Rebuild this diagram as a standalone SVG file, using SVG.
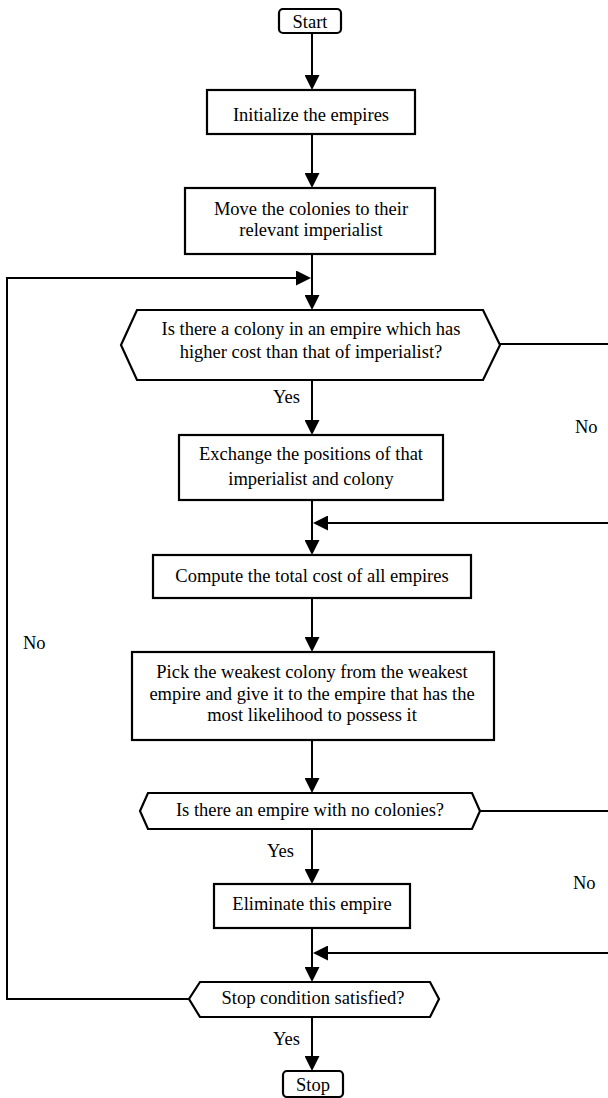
<svg xmlns="http://www.w3.org/2000/svg" width="608" height="1098" viewBox="0 0 608 1098">
<style>
.box{fill:#fff;stroke:#000;stroke-width:2.2}
.ln{fill:none;stroke:#000;stroke-width:2}
text{font-family:"Liberation Serif","Times New Roman",serif;font-size:18.5px;fill:#000}
.c{text-anchor:middle}
</style>
<defs>
<marker id="arr" viewBox="0 0 15 15" refX="10" refY="7.5" markerWidth="15" markerHeight="15" markerUnits="userSpaceOnUse" orient="auto">
<path d="M0,0 L15,7.5 L0,15 z" fill="#000"/>
</marker>
</defs>
<rect width="608" height="1098" fill="#fff"/>
<g id="connectors">
<line class="ln" x1="312" y1="33" x2="312" y2="85" marker-end="url(#arr)"/>
<line class="ln" x1="312" y1="134" x2="312" y2="183" marker-end="url(#arr)"/>
<line class="ln" x1="312" y1="254" x2="312" y2="305" marker-end="url(#arr)"/>
<path class="ln" d="M190,999 H7 V278 H306" marker-end="url(#arr)"/>
<line class="ln" x1="312" y1="380" x2="312" y2="430" marker-end="url(#arr)"/>
<line class="ln" x1="312" y1="500" x2="312" y2="550" marker-end="url(#arr)"/>
<path class="ln" d="M500,344 H614 V523 H318" marker-end="url(#arr)"/>
<line class="ln" x1="312" y1="598" x2="312" y2="647" marker-end="url(#arr)"/>
<line class="ln" x1="312" y1="740" x2="312" y2="788" marker-end="url(#arr)"/>
<path class="ln" d="M480,811 H614 V953 H318" marker-end="url(#arr)"/>
<line class="ln" x1="312" y1="829" x2="312" y2="879" marker-end="url(#arr)"/>
<line class="ln" x1="312" y1="928" x2="312" y2="977" marker-end="url(#arr)"/>
<line class="ln" x1="312" y1="1017" x2="312" y2="1066" marker-end="url(#arr)"/>
<text x="273" y="403">Yes</text>
<text x="575" y="433">No</text>
<text x="267" y="857">Yes</text>
<text x="573" y="889">No</text>
<text x="273" y="1045">Yes</text>
<text x="23" y="649">No</text>
</g>
<g id="start">
<rect class="box" x="279" y="9" width="62" height="24" rx="4"/>
<text class="c" x="310" y="28">Start</text>
</g>
<g id="init">
<rect class="box" x="207" y="90" width="208" height="44"/>
<text class="c" x="311" y="121">Initialize the empires</text>
</g>
<g id="move">
<rect class="box" x="185" y="188" width="250" height="66"/>
<text class="c" x="311" y="215">Move the colonies to their</text>
<text class="c" x="311" y="236">relevant imperialist</text>
</g>
<g id="decision1">
<polygon class="box" points="137,310 483,310 500,345 483,380 137,380 121,345"/>
<text class="c" x="311" y="335">Is there a colony in an empire which has</text>
<text class="c" x="311" y="358">higher cost than that of imperialist?</text>
</g>
<g id="exchange">
<rect class="box" x="179" y="435" width="264" height="65"/>
<text class="c" x="311" y="460">Exchange the positions of that</text>
<text class="c" x="311" y="485">imperialist and colony</text>
</g>
<g id="compute">
<rect class="box" x="153" y="555" width="318" height="43"/>
<text class="c" x="312" y="582">Compute the total cost of all empires</text>
</g>
<g id="pick">
<rect class="box" x="132" y="652" width="362" height="88"/>
<text class="c" x="312" y="678">Pick the weakest colony from the weakest</text>
<text class="c" x="312" y="700">empire and give it to the empire that has the</text>
<text class="c" x="312" y="721">most likelihood to possess it</text>
</g>
<g id="decision2">
<polygon class="box" points="148,793 472,793 480,811 472,829 148,829 140,811"/>
<text class="c" x="310" y="816">Is there an empire with no colonies?</text>
</g>
<g id="eliminate">
<rect class="box" x="214" y="884" width="196" height="44"/>
<text class="c" x="312" y="910">Eliminate this empire</text>
</g>
<g id="decision3">
<polygon class="box" points="200,982 430,982 439,999 430,1017 200,1017 189,999"/>
<text class="c" x="313" y="1004">Stop condition satisfied?</text>
</g>
<g id="stop">
<rect class="box" x="283" y="1071" width="60" height="26" rx="4"/>
<text class="c" x="313" y="1091">Stop</text>
</g>
</svg>
